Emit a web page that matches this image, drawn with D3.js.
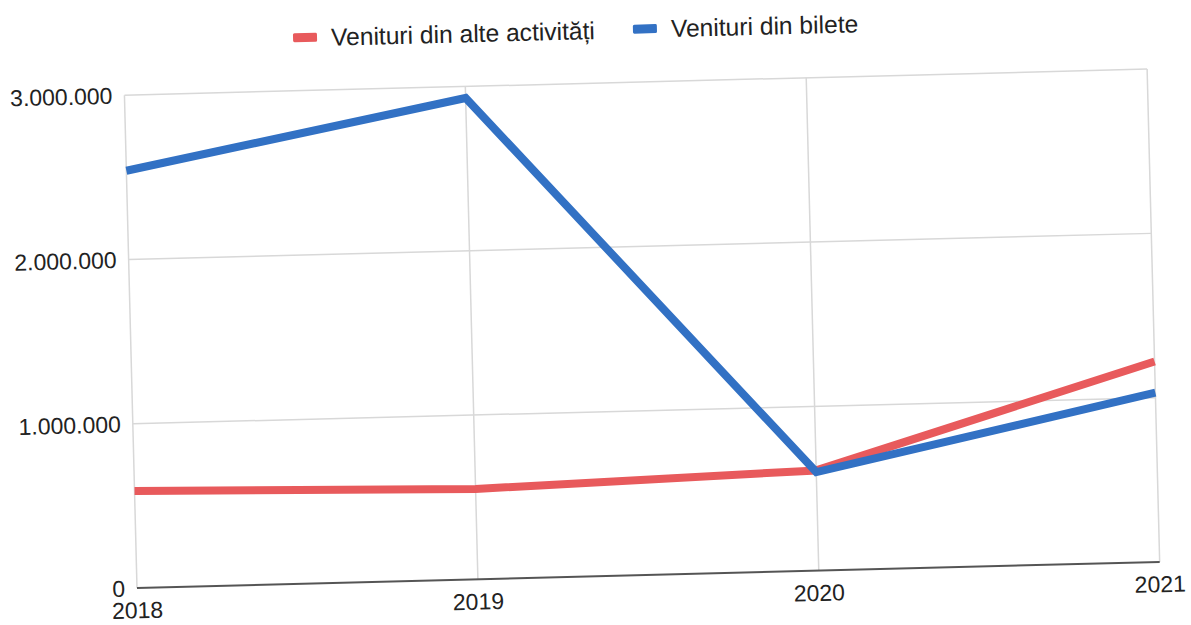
<!DOCTYPE html>
<html>
<head>
<meta charset="utf-8">
<script src="https://cdn.jsdelivr.net/npm/d3@7"></script>
<style>
    body { margin: 0; background: #fff; }
    text { font-family: "Liberation Sans", Arial, sans-serif; fill: #222; }
</style>
</head>
<body>
<div id="chart"></div>
<script>

//Data
const years = ["2018", "2019", "2020", "2021"];
const alteActivitati = [590000, 550000, 610000, 1220000];
const bilete = [2540000, 2930000, 600000, 1030000];
const seriesNames = ["Venituri din alte activități", "Venituri din bilete"];
const seriesColors = ["#e85a5c", "#3271c4"];
const yTicks = [0, 1000000, 2000000, 3000000];

class LineChart {

    //Constructor method to initialize the visualization
    constructor(_parentElement) {
        this.parentElement = _parentElement;
        this.series = [
            { name: seriesNames[0], color: seriesColors[0], values: alteActivitati },
            { name: seriesNames[1], color: seriesColors[1], values: bilete }
        ];
        this.initVis();
    }

    //Method to initialize the visualization
    initVis() {
        let vis = this;
        vis.margin = { top: 95, right: 31, bottom: 37, left: 137 };
        vis.width = 1191 - vis.margin.left - vis.margin.right;
        vis.height = 625 - vis.margin.top - vis.margin.bottom;

        // the reference is a scan, tilted a little
        vis.svg = d3.select(vis.parentElement)
            .append("svg")
            .attr("width", 1191)
            .attr("height", 625)
            .append("g")
            .attr("transform", `rotate(-1.46, ${vis.margin.left}, ${vis.margin.top + vis.height})`);

        vis.g = vis.svg.append("g")
            .attr("transform", `translate(${vis.margin.left},${vis.margin.top})`);

        vis.x = d3.scalePoint()
            .domain(years)
            .range([0, vis.width]);

        vis.y = d3.scaleLinear()
            .domain([0, 3000000])
            .range([vis.height, 0]);

        vis.fmt = d3.formatLocale({ decimal: ",", thousands: ".", grouping: [3], currency: ["", ""] }).format(",");

        vis.updateVis();
    }

    //Method to draw grid, axes, lines and legend
    updateVis() {
        let vis = this;

        // horizontal grid
        vis.g.append("g")
            .selectAll("line")
            .data(yTicks.filter(d => d > 0))
            .join("line")
            .attr("x1", 0)
            .attr("x2", vis.width)
            .attr("y1", d => vis.y(d))
            .attr("y2", d => vis.y(d))
            .attr("stroke", "#d8d8d8")
            .attr("stroke-width", 1.5);

        // vertical grid
        vis.g.append("g")
            .selectAll("line")
            .data(years)
            .join("line")
            .attr("x1", d => vis.x(d))
            .attr("x2", d => vis.x(d))
            .attr("y1", 0)
            .attr("y2", vis.height)
            .attr("stroke", "#d8d8d8")
            .attr("stroke-width", 1.5);

        // y labels
        vis.g.append("g")
            .selectAll("text")
            .data(yTicks)
            .join("text")
            .attr("x", -12)
            .attr("y", d => vis.y(d))
            .attr("dy", "0.36em")
            .attr("text-anchor", "end")
            .style("font-size", "23px")
            .text(d => vis.fmt(d));

        // x labels
        vis.g.append("g")
            .selectAll("text")
            .data(years)
            .join("text")
            .attr("x", d => vis.x(d))
            .attr("y", vis.height + 22)
            .attr("dy", "0.36em")
            .attr("text-anchor", "middle")
            .style("font-size", "23px")
            .text(d => d);

        const line = d3.line()
            .x((d, i) => vis.x(years[i]))
            .y(d => vis.y(d));

        vis.g.append("g")
            .selectAll("path")
            .data(vis.series)
            .join("path")
            .attr("d", d => line(d.values))
            .attr("fill", "none")
            .attr("stroke", d => d.color)
            .attr("stroke-width", 8)
            .attr("stroke-linejoin", "miter");

        // baseline
        vis.g.append("line")
            .attr("x1", 0)
            .attr("x2", vis.width)
            .attr("y1", vis.height)
            .attr("y2", vis.height)
            .attr("stroke", "#555")
            .attr("stroke-width", 2);

        // legend
        const legendX = [307, 647];
        const legend = vis.svg.append("g")
            .selectAll("g")
            .data(vis.series)
            .join("g")
            .attr("transform", (d, i) => `translate(${legendX[i]},42)`);

        legend.append("rect")
            .attr("x", 0)
            .attr("y", -4.5)
            .attr("width", 24)
            .attr("height", 9)
            .attr("rx", 1.5)
            .attr("fill", d => d.color);

        legend.append("text")
            .attr("x", 38)
            .attr("dy", "0.36em")
            .style("font-size", "24.6px")
            .text(d => d.name);
    }
}

new LineChart("#chart");
</script>
</body>
</html>
